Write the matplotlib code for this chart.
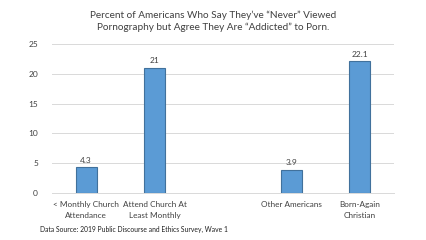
import numpy as np
import matplotlib.pyplot as plt

# categories and values (slot 2 is an empty gap)
categories = ['< Monthly Church\nAttendance', 'Attend Church At\nLeast Monthly',
              'Other Americans', 'Born-Again\nChristian']
slots = [0, 1, 3, 4]
values = [4.3, 21, 3.9, 22.1]
value_labels = ['4.3', '21', '3.9', '22.1']
yticks = [0, 5, 10, 15, 20, 25]

plt.rcParams['font.family'] = ['Lato', 'DejaVu Sans']

fig = plt.figure(figsize=(4.27, 2.4), dpi=100)
ax = fig.add_axes([52 / 427, 1 - 193 / 240, 342 / 427, 149 / 240])

txt = '#404040'
ax.bar(slots, values, width=0.31, color='#5B9BD5', edgecolor='#41719C', linewidth=0.8, zorder=3)
for x, v, s in zip(slots, values, value_labels):
    ax.text(x, v + 0.6, s, ha='center', va='bottom', fontsize=6.0, color=txt)

ax.set_xlim(-0.5, 4.5)
ax.set_ylim(0, 25)
ax.set_yticks(yticks)
ax.set_xticks(slots)
ax.set_xticklabels(categories, fontsize=5.9, color=txt, linespacing=1.55)
ax.tick_params(axis='y', labelsize=6.0, labelcolor=txt, length=0, pad=10)
ax.tick_params(axis='x', length=0, pad=6)
ax.grid(axis='y', color='#d9d9d9', linewidth=0.7, zorder=0)
for sp in ['top', 'right', 'left']:
    ax.spines[sp].set_visible(False)
ax.spines['bottom'].set_color('#d9d9d9')
ax.spines['bottom'].set_linewidth(0.7)

fig.text(0.5, 1 - 21 / 240, 'Percent of Americans Who Say They\u2019ve \u201cNever\u201d Viewed\n'
         'Pornography but Agree They Are \u201cAddicted\u201d to Porn.',
         ha='center', va='center', fontsize=7.2, color=txt, linespacing=1.35)
fig.text(40 / 427, 1 - 229 / 240, 'Data Source: 2019 Public Discourse and Ethics Survey, Wave 1',
         ha='left', va='center', fontsize=4.9, color='#202020')

fig.savefig('out.png', dpi=100)
